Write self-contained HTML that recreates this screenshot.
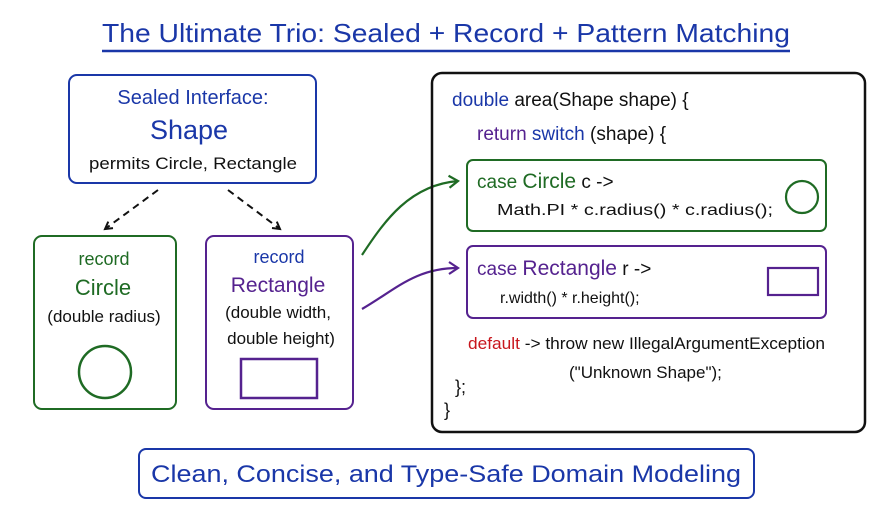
<!DOCTYPE html>
<html><head><meta charset="utf-8"><style>
html,body{margin:0;padding:0;background:#fff;}
svg{display:block;}
text{font-family:"Liberation Sans",sans-serif;}
</style></head><body>
<svg width="872" height="514" viewBox="0 0 872 514" xmlns="http://www.w3.org/2000/svg">
<defs>
<marker id="ab" markerWidth="10" markerHeight="10" refX="8" refY="5" orient="auto" markerUnits="userSpaceOnUse"><path d="M1,1 L8,5 L1,9" fill="none" stroke="#111" stroke-width="2"/></marker>
<marker id="ag" markerWidth="14" markerHeight="14" refX="11" refY="7" orient="auto" markerUnits="userSpaceOnUse"><path d="M2,1 L11,7 L2,13" fill="none" stroke="#1f6b24" stroke-width="2.2"/></marker>
<marker id="ap" markerWidth="14" markerHeight="14" refX="11" refY="7" orient="auto" markerUnits="userSpaceOnUse"><path d="M2,1 L11,7 L2,13" fill="none" stroke="#55228f" stroke-width="2.2"/></marker>
</defs>
<rect width="872" height="514" fill="#fff"/>
<!-- title -->
<text x="446" y="42" text-anchor="middle" font-size="26" fill="#1a37a8" textLength="688" lengthAdjust="spacingAndGlyphs">The Ultimate Trio: Sealed + Record + Pattern Matching</text>
<line x1="102" y1="51" x2="790" y2="51" stroke="#1a37a8" stroke-width="2.5"/>
<!-- shape box -->
<rect x="69" y="75" width="247" height="108" rx="8" fill="none" stroke="#1a37a8" stroke-width="2"/>
<text x="193" y="104" text-anchor="middle" font-size="20" fill="#1a37a8">Sealed Interface:</text>
<text x="189" y="139" text-anchor="middle" font-size="27" fill="#1a37a8">Shape</text>
<text x="193" y="169" text-anchor="middle" font-size="17" fill="#111" textLength="208" lengthAdjust="spacingAndGlyphs">permits Circle, Rectangle</text>
<line x1="158" y1="190" x2="105" y2="229" stroke="#111" stroke-width="2" stroke-dasharray="7,5" marker-end="url(#ab)"/>
<line x1="228" y1="190" x2="280" y2="229" stroke="#111" stroke-width="2" stroke-dasharray="7,5" marker-end="url(#ab)"/>
<!-- circle record -->
<rect x="34" y="236" width="142" height="173" rx="8" fill="none" stroke="#1f6b24" stroke-width="2"/>
<text x="104" y="265" text-anchor="middle" font-size="18" fill="#1f6b24">record</text>
<text x="103" y="295" text-anchor="middle" font-size="22" fill="#1f6b24">Circle</text>
<text x="104" y="322" text-anchor="middle" font-size="17" fill="#111">(double radius)</text>
<circle cx="105" cy="372" r="26" fill="none" stroke="#1f6b24" stroke-width="2.5"/>
<!-- rect record -->
<rect x="206" y="236" width="147" height="173" rx="8" fill="none" stroke="#55228f" stroke-width="2"/>
<text x="279" y="263" text-anchor="middle" font-size="18" fill="#1a37a8">record</text>
<text x="278" y="292" text-anchor="middle" font-size="21" fill="#55228f">Rectangle</text>
<text x="278" y="318" text-anchor="middle" font-size="17" fill="#111">(double width,</text>
<text x="281" y="344" text-anchor="middle" font-size="17" fill="#111">double height)</text>
<rect x="241" y="359" width="76" height="39" fill="none" stroke="#55228f" stroke-width="2.5"/>
<!-- connectors -->
<path d="M362,255 C385,220 410,185 458,181" fill="none" stroke="#1f6b24" stroke-width="2.2" marker-end="url(#ag)"/>
<path d="M362,309 C395,290 415,268 458,268" fill="none" stroke="#55228f" stroke-width="2.2" marker-end="url(#ap)"/>
<!-- code box -->
<rect x="432" y="73" width="433" height="359" rx="10" fill="none" stroke="#111" stroke-width="2.5"/>
<text x="452" y="106" font-size="19" fill="#111"><tspan fill="#1a37a8">double</tspan> area(Shape shape) {</text>
<text x="477" y="140" font-size="19" fill="#111"><tspan fill="#55228f">return</tspan> <tspan fill="#1a37a8">switch</tspan> (shape) {</text>
<rect x="467" y="160" width="359" height="71" rx="6" fill="none" stroke="#1f6b24" stroke-width="2"/>
<text x="477" y="188" font-size="19" fill="#1f6b24">case <tspan font-size="21">Circle</tspan> <tspan fill="#111">c -&gt;</tspan></text>
<text x="497" y="215" font-size="16" fill="#111" textLength="276" lengthAdjust="spacingAndGlyphs">Math.PI * c.radius() * c.radius();</text>
<circle cx="802" cy="197" r="16" fill="none" stroke="#1f6b24" stroke-width="2.2"/>
<rect x="467" y="246" width="359" height="72" rx="6" fill="none" stroke="#55228f" stroke-width="2"/>
<text x="477" y="275" font-size="19" fill="#55228f">case <tspan font-size="21">Rectangle</tspan> <tspan fill="#111">r -&gt;</tspan></text>
<text x="500" y="303" font-size="16" fill="#111">r.width() * r.height();</text>
<rect x="768" y="268" width="50" height="27" fill="none" stroke="#55228f" stroke-width="2.2"/>
<text x="468" y="349" font-size="17" fill="#111" textLength="357" lengthAdjust="spacingAndGlyphs"><tspan fill="#c8161d">default</tspan> -&gt; throw new IllegalArgumentException</text>
<text x="569" y="378" font-size="17" fill="#111">("Unknown Shape");</text>
<text x="455" y="393" font-size="18" fill="#111">};</text>
<text x="444" y="416" font-size="18" fill="#111">}</text>
<!-- bottom -->
<rect x="139" y="449" width="615" height="49" rx="7" fill="none" stroke="#1a37a8" stroke-width="2"/>
<text x="446" y="482" text-anchor="middle" font-size="24" fill="#1a37a8" textLength="590" lengthAdjust="spacingAndGlyphs">Clean, Concise, and Type-Safe Domain Modeling</text>
</svg>
</body></html>
